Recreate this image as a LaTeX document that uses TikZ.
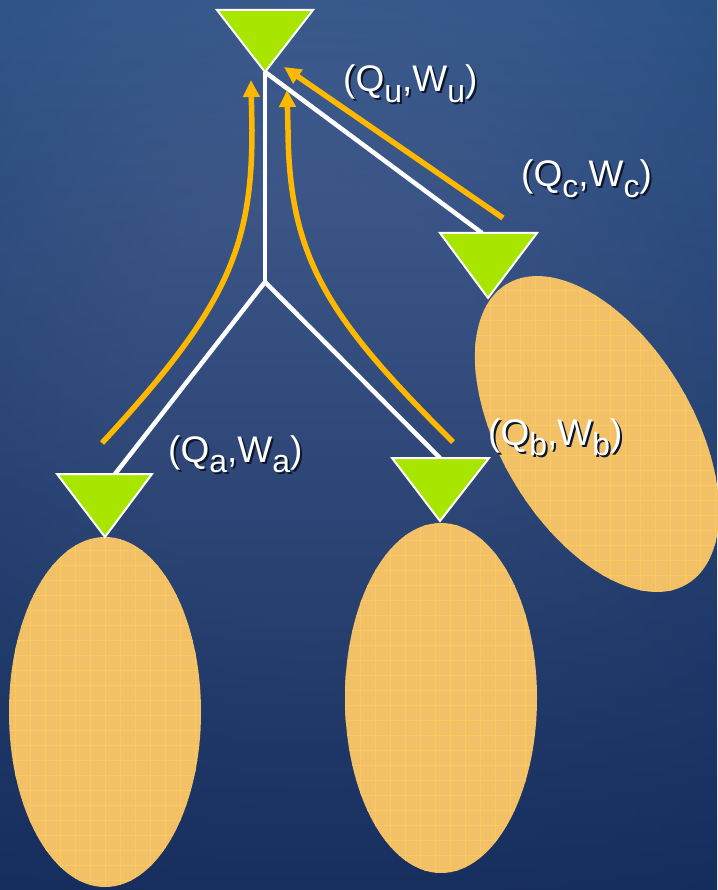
\documentclass[tikz,border=0pt]{standalone}
\usepackage{fontspec}
\setmainfont{Liberation Sans}
\usetikzlibrary{arrows.meta,fadings}
\definecolor{bgin}{RGB}{68,96,146}
\definecolor{bgmid}{RGB}{48,84,134}
\definecolor{bgout}{RGB}{16,70,116}
\definecolor{bgnavy}{RGB}{14,34,80}
\definecolor{leaf}{RGB}{168,230,0}
\definecolor{blob}{RGB}{242,192,102}
\definecolor{blobgrid}{RGB}{250,202,96}
\definecolor{flow}{RGB}{255,184,0}
\definecolor{shadowc}{RGB}{12,22,45}
\pgfdeclareradialshading{bgshade}{\pgfpoint{-4bp}{3bp}}{color(0bp)=(bgin); color(12bp)=(bgin); color(32bp)=(bgmid); color(55bp)=(bgout); color(75bp)=(bgout)}
\tikzfading[name=bottomdark, top color=transparent!100, middle color=transparent!100, bottom color=transparent!25]
\newcommand\qwraw[1]{(Q\raisebox{-0.28em}{\fontsize{32}{32}\selectfont #1},W\raisebox{-0.28em}{\fontsize{32}{32}\selectfont #1})}
\newcommand\qwpair[1]{\makebox[0pt][l]{\hspace{2pt}\raisebox{-2pt}{\color{shadowc}\qwraw{#1}}}\qwraw{#1}}
\tikzset{
  wire/.style={white, line width=4.5},
  flowarrow/.style={flow, line width=5.5, -{Triangle[length=17, width=16]}},
  leafbox/.style={fill=leaf, draw=white, line width=2, line join=miter},
  lbl/.style={text=white, font=\fontsize{37}{37}\selectfont, inner sep=0, anchor=base west},
}
\begin{document}
\begin{tikzpicture}[x=1pt, y=-1pt]
\useasboundingbox (0,0) rectangle (717,890);
\shade[shading=bgshade] (0,0) rectangle (717,890);
\fill[bgnavy, path fading=bottomdark] (0,0) rectangle (717,890);

% ellipses (clusters)
\coordinate (ea) at (105,712);
\coordinate (eb) at (441,698);
\coordinate (ec) at (597,434);
\begin{scope}
  \clip (ea) ellipse [x radius=96, y radius=175];
  \fill[blob] (0,520) rectangle (220,890);
  \foreach \k in {0,15,...,225} \draw[blobgrid, line width=1] (\k,520) -- (\k,890);
  \foreach \k in {520,535,...,890} \draw[blobgrid, line width=1] (0,\k) -- (220,\k);
\end{scope}
\begin{scope}
  \clip (eb) ellipse [x radius=96, y radius=175];
  \fill[blob] (330,510) rectangle (560,890);
  \foreach \k in {330,345,...,560} \draw[blobgrid, line width=1] (\k,510) -- (\k,890);
  \foreach \k in {510,525,...,890} \draw[blobgrid, line width=1] (330,\k) -- (560,\k);
\end{scope}
\begin{scope}
  \clip[rotate around={31:(ec)}] (ec) ellipse [x radius=96, y radius=175];
  \fill[blob] (460,260) rectangle (730,610);
  \foreach \k in {460,475,...,730} \draw[blobgrid, line width=1] (\k,260) -- (\k,610);
  \foreach \k in {260,275,...,610} \draw[blobgrid, line width=1] (460,\k) -- (730,\k);
\end{scope}

% tree coordinates
\coordinate (u) at (265,72);
\coordinate (j) at (265,282);
\coordinate (ta) at (115,474);
\coordinate (tb) at (440,458);
\coordinate (tc) at (482,233);

% white connectors
\draw[wire] (u) -- (j);
\draw[wire] (j) -- (ta);
\draw[wire] (j) -- (tb);
\draw[wire] (u) -- (tc);

% triangles
\draw[leafbox] (217,10) -- (313,10) -- (265,72) -- cycle;
\draw[leafbox] (440,233) -- (537,233) -- (488,298) -- cycle;
\draw[leafbox] (57,474) -- (152,474) -- (105,537) -- cycle;
\draw[leafbox] (392,458) -- (489,458) -- (440,521) -- cycle;

% orange flows
\coordinate (fa0) at (102,443);
\coordinate (fa1) at (251,80);
\coordinate (fb0) at (453,442);
\coordinate (fb1) at (287,90);
\coordinate (fc0) at (503,218);
\coordinate (fc1) at (284,67);
\draw[flowarrow] (fa0) .. controls (225,310) and (252,250) .. (252,130) -- (fa1);
\draw[flowarrow] (fb0) .. controls (330,320) and (289,260) .. (288,130) -- (fb1);
\draw[flowarrow] (fc0) -- (fc1);

% labels
\node[lbl] (lu) at (343,92) {\qwpair{u}};
\node[lbl] (lc) at (521,187) {\qwpair{c}};
\node[lbl] (la) at (168,462) {\qwpair{a}};
\node[lbl] (lb) at (488,445) {\qwpair{b}};
\end{tikzpicture}
\end{document}
